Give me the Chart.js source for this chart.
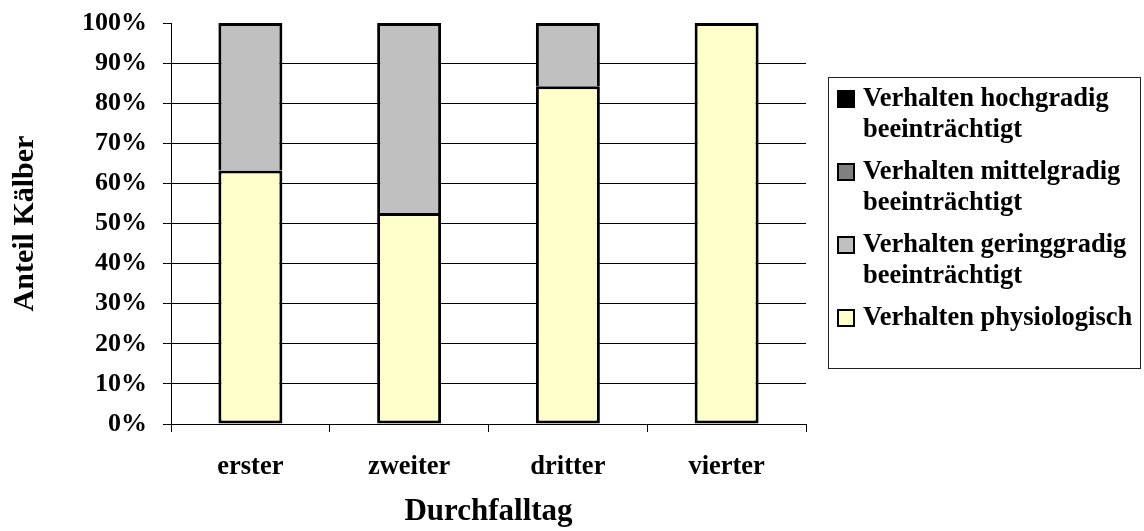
<!DOCTYPE html>
<html>
<head>
<meta charset="utf-8">
<script src="https://cdn.jsdelivr.net/npm/chart.js@4/dist/chart.umd.min.js"></script>
<style>
    body { margin: 0; background: #fff; }
    #wrap { position: relative; width: 1144px; height: 531px; }
    #legend {
        position: absolute; left: 828px; top: 77px; width: 313px; height: 292px;
        border: 1px solid #222; box-sizing: border-box; padding-top: 4px;
        font-family: 'Liberation Serif', 'Times New Roman', serif; font-weight: bold;
        font-size: 26.5px; line-height: 31px; color: #000;
    }
    .item { position: relative; padding-left: 34px; margin-bottom: 11px; }
    .swatch {
        position: absolute; left: 8px; top: 8px; width: 18px; height: 18px;
        border: 2px solid #000; box-sizing: border-box;
    }
</style>
</head>
<body>
<div id="wrap">
    <canvas id="myChart" width="1144" height="531"></canvas>
    <div id="legend"></div>
</div>
<script>
// Durchfalltag categories
const days = ['erster', 'zweiter', 'dritter', 'vierter'];

// share of calves per behaviour class (percent)
const physiologisch = [63.2, 52.6, 84.2, 100];
const geringgradig = [36.8, 47.4, 15.8, 0];
const mittelgradig = [0, 0, 0, 0];
const hochgradig = [0, 0, 0, 0];

const seriesNames = [
    'Verhalten physiologisch',
    'Verhalten geringgradig beeinträchtigt',
    'Verhalten mittelgradig beeinträchtigt',
    'Verhalten hochgradig beeinträchtigt'
];
const seriesColors = ['#FFFFCC', '#C0C0C0', '#808080', '#000000'];
const seriesValues = [physiologisch, geringgradig, mittelgradig, hochgradig];

const yMin = 0, yMax = 100, yStep = 10;

const font = 'Liberation Serif';

const datasets = seriesValues.map((vals, i) => ({
    label: seriesNames[i],
    data: vals,
    backgroundColor: seriesColors[i],
    borderColor: '#000',
    borderWidth: 3,
    // lower segment keeps its bottom edge, upper ones share the border below them
    borderSkipped: i === 0 ? false : 'start',
    categoryPercentage: 1,
    barPercentage: 0.403
}));

new Chart(document.getElementById('myChart').getContext('2d'), {
    type: 'bar',
    data: { labels: days, datasets: datasets },
    options: {
        responsive: false,
        animation: false,
        layout: { padding: { top: 23, right: 338, bottom: 0, left: 0 } },
        plugins: { legend: { display: false }, tooltip: { enabled: false } },
        scales: {
            x: {
                stacked: true,
                offset: true,
                grid: {
                    offset: true,
                    drawOnChartArea: false,
                    tickLength: 8,
                    tickColor: '#000'
                },
                border: { color: '#000', width: 1 },
                ticks: {
                    padding: 19,
                    color: '#000',
                    font: { family: font, size: 26.5, weight: 'bold' }
                },
                title: {
                    display: true,
                    text: 'Durchfalltag',
                    color: '#000',
                    padding: { top: 0, bottom: 0 },
                    font: { family: font, size: 31, weight: 'bold' }
                },
                afterFit: (scale) => { scale.height = 107; }
            },
            y: {
                stacked: true,
                min: yMin,
                max: yMax,
                grid: {
                    color: (ctx) => (ctx.tick && ctx.tick.value === yMax ? 'rgba(0,0,0,0)' : '#000'),
                    tickColor: '#000',
                    tickLength: 8
                },
                border: { color: '#000', width: 1 },
                ticks: {
                    stepSize: yStep,
                    padding: 16,
                    color: '#000',
                    font: { family: font, size: 26, weight: 'bold' },
                    callback: (v) => v + '%'
                },
                title: {
                    display: true,
                    text: 'Anteil Kälber',
                    color: '#000',
                    padding: { top: 7, bottom: 7 },
                    font: { family: font, size: 30, weight: 'bold' }
                },
                afterFit: (scale) => {
                    scale.width = 171;
                    scale.paddingTop = 0;
                    scale.paddingBottom = 0;
                }
            }
        }
    }
});

// legend, top entry = top of the stack
const legend = document.getElementById('legend');
for (let i = seriesNames.length - 1; i >= 0; i--) {
    const item = document.createElement('div');
    item.className = 'item';
    item.innerHTML = '<span class="swatch" style="background:' + seriesColors[i] + '"></span>' + seriesNames[i];
    legend.appendChild(item);
}
</script>
</body>
</html>
